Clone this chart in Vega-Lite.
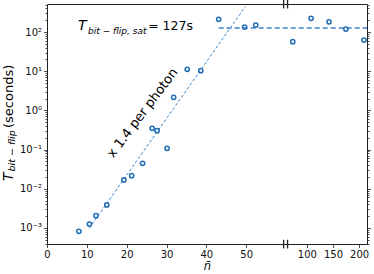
{
  "$schema": "https://vega.github.io/schema/vega-lite/v6.json",
  "width": 320,
  "height": 240,
  "autosize": {"type": "none"},
  "padding": {"left": 47, "top": 4, "right": 7, "bottom": 30},
  "config": {
    "font": "DejaVu Sans",
    "view": {"stroke": "#222", "strokeWidth": 1},
    "axis": {"grid": false, "domainColor": "#222", "tickColor": "#222", "labelColor": "#111", "labelFont": "DejaVu Sans", "titleFont": "DejaVu Sans", "titleColor": "#111"}
  },
  "datasets": {
    "points": [
      {"n": 8.0, "T": 0.000824},
      {"n": 10.65, "T": 0.00126},
      {"n": 12.3, "T": 0.00206},
      {"n": 15.0, "T": 0.00386},
      {"n": 19.3, "T": 0.0168},
      {"n": 21.25, "T": 0.0216},
      {"n": 24.0, "T": 0.0447},
      {"n": 26.4, "T": 0.349},
      {"n": 27.65, "T": 0.303},
      {"n": 30.15, "T": 0.108},
      {"n": 31.8, "T": 2.16},
      {"n": 35.2, "T": 11.2},
      {"n": 38.6, "T": 10.3},
      {"n": 43.1, "T": 211},
      {"n": 49.6, "T": 134},
      {"n": 52.4, "T": 151},
      {"n": 72.9, "T": 56.6},
      {"n": 108.1, "T": 224},
      {"n": 142.3, "T": 183},
      {"n": 174.6, "T": 119},
      {"n": 209.2, "T": 62.5}
    ],
    "fit": [{"n": 10.6, "T": 0.00098}, {"n": 49.8, "T": 448}],
    "sat": [{"n": 43.1, "T": 127}, {"n": 215, "T": 127}],
    "breaks": [
      {"n": 59.4, "lo": 400, "hi": 680},
      {"n": 63.0, "lo": 400, "hi": 680},
      {"n": 59.4, "lo": 0.0003, "hi": 0.0005},
      {"n": 63.0, "lo": 0.0003, "hi": 0.0005}
    ]
  },
  "layer": [
    {
      "data": {"name": "fit"},
      "mark": {"type": "line", "stroke": "#3f85cc", "strokeWidth": 1, "strokeDash": [3, 2]},
      "encoding": {
        "x": {"field": "n", "type": "quantitative", "axis": null},
        "y": {"field": "T", "type": "quantitative", "axis": null}
      }
    },
    {
      "data": {"name": "sat"},
      "mark": {"type": "line", "stroke": "#6e9fd6", "strokeWidth": 1.8, "strokeDash": [5, 3]},
      "encoding": {
        "x": {"field": "n", "type": "quantitative", "axis": null},
        "y": {"field": "T", "type": "quantitative", "axis": {
          "orient": "right", "labels": false, "title": null, "domain": false,
          "values": [0.0004,0.0005,0.0006,0.0007,0.0008,0.0009,0.001,0.002,0.003,0.004,0.005,0.006,0.007,0.008,0.009,0.01,0.02,0.03,0.04,0.05,0.06,0.07,0.08,0.09,0.1,0.2,0.3,0.4,0.5,0.6,0.7,0.8,0.9,1,2,3,4,5,6,7,8,9,10,20,30,40,50,60,70,80,90,100,200,300,400,500],
          "tickSize": {"condition": {"test": "abs(log(datum.value)/LN10 - round(log(datum.value)/LN10)) < 1e-6", "value": 3.5}, "value": 2},
          "tickWidth": 0.8
        }}
      }
    },
    {
      "data": {"name": "breaks"},
      "mark": {"type": "rule", "stroke": "#222", "strokeWidth": 1.3, "clip": false},
      "encoding": {
        "x": {"field": "n", "type": "quantitative", "axis": null},
        "y": {"field": "lo", "type": "quantitative", "axis": null},
        "y2": {"field": "hi"}
      }
    },
    {
      "data": {"name": "points"},
      "mark": {"type": "point", "shape": "circle", "filled": false, "stroke": "#1f6db4", "strokeWidth": 1.5, "size": 18, "opacity": 1},
      "encoding": {
        "x": {"field": "n", "type": "quantitative",
          "scale": {"domain": [0, 60, 215], "range": [0, 239, 320], "nice": false, "zero": false, "clamp": false},
          "axis": {"values": [0, 10, 20, 30, 40, 50, 100, 150, 200], "title": "n̄", "titleFontStyle": "italic", "titleFontWeight": "normal", "titleFontSize": 11.5, "titlePadding": 1, "labelFontSize": 10, "labelPadding": 2, "tickSize": 3.5, "tickWidth": 0.8, "labelOverlap": false, "labelFlush": false, "domain": false}},
        "y": {"field": "T", "type": "quantitative",
          "scale": {"type": "log", "domain": [0.00039, 520], "nice": false},
          "axis": {
            "title": null, "domain": false,
            "values": [0.0004,0.0005,0.0006,0.0007,0.0008,0.0009,0.001,0.002,0.003,0.004,0.005,0.006,0.007,0.008,0.009,0.01,0.02,0.03,0.04,0.05,0.06,0.07,0.08,0.09,0.1,0.2,0.3,0.4,0.5,0.6,0.7,0.8,0.9,1,2,3,4,5,6,7,8,9,10,20,30,40,50,60,70,80,90,100,200,300,400,500],
            "labelExpr": "abs(log(datum.value)/LN10 - round(log(datum.value)/LN10)) < 1e-6 ? '10' + ['⁻³','⁻²','⁻¹','⁰','¹','²'][round(log(datum.value)/LN10)+3] : ''",
            "labelOverlap": false, "labelFlush": false, "labelFontSize": 10, "labelPadding": 2,
            "tickSize": {"condition": {"test": "abs(log(datum.value)/LN10 - round(log(datum.value)/LN10)) < 1e-6", "value": 3.5}, "value": 2},
            "tickWidth": 0.8
          }}
      }
    },
    {
      "data": {"values": [{"n": 7.8, "T": 112, "label": "T"}]},
      "mark": {"type": "text", "align": "left", "baseline": "alphabetic", "fontSize": 14, "fontStyle": "italic", "color": "#000"},
      "encoding": {"x": {"field": "n", "type": "quantitative", "axis": null}, "y": {"field": "T", "type": "quantitative", "axis": null}, "text": {"field": "label"}}
    },
    {
      "data": {"values": [{"n": 10.3, "T": 91.6, "label": "bit − flip, sat"}]},
      "mark": {"type": "text", "align": "left", "baseline": "alphabetic", "fontSize": 9, "fontStyle": "italic", "color": "#000"},
      "encoding": {"x": {"field": "n", "type": "quantitative", "axis": null}, "y": {"field": "T", "type": "quantitative", "axis": null}, "text": {"field": "label"}}
    },
    {
      "data": {"values": [{"n": 25.4, "T": 112, "label": "= 127s"}]},
      "mark": {"type": "text", "align": "left", "baseline": "alphabetic", "fontSize": 12.5, "color": "#000"},
      "encoding": {"x": {"field": "n", "type": "quantitative", "axis": null}, "y": {"field": "T", "type": "quantitative", "axis": null}, "text": {"field": "label"}}
    },
    {
      "data": {"values": [{"n": 24.0, "T": 0.86, "label": "x 1.4 per photon"}]},
      "mark": {"type": "text", "align": "center", "baseline": "middle", "angle": 307, "fontSize": 13, "color": "#000"},
      "encoding": {"x": {"field": "n", "type": "quantitative", "axis": null}, "y": {"field": "T", "type": "quantitative", "axis": null}, "text": {"field": "label"}}
    },
    {
      "data": {"values": [{"n": -8.625, "T": 0.0158, "label": "T"}]},
      "mark": {"type": "text", "align": "left", "baseline": "alphabetic", "angle": 270, "fontSize": 14, "fontStyle": "italic", "color": "#000"},
      "encoding": {"x": {"field": "n", "type": "quantitative", "axis": null}, "y": {"field": "T", "type": "quantitative", "axis": null}, "text": {"field": "label"}}
    },
    {
      "data": {"values": [{"n": -8.0, "T": 0.0276, "label": "bit − flip"}]},
      "mark": {"type": "text", "align": "left", "baseline": "alphabetic", "angle": 270, "fontSize": 9.5, "fontStyle": "italic", "color": "#000"},
      "encoding": {"x": {"field": "n", "type": "quantitative", "axis": null}, "y": {"field": "T", "type": "quantitative", "axis": null}, "text": {"field": "label"}}
    },
    {
      "data": {"values": [{"n": -8.625, "T": 0.356, "label": "(seconds)"}]},
      "mark": {"type": "text", "align": "left", "baseline": "alphabetic", "angle": 270, "fontSize": 13, "color": "#000"},
      "encoding": {"x": {"field": "n", "type": "quantitative", "axis": null}, "y": {"field": "T", "type": "quantitative", "axis": null}, "text": {"field": "label"}}
    }
  ],
  "resolve": {"axis": {"x": "independent", "y": "independent"}}
}
